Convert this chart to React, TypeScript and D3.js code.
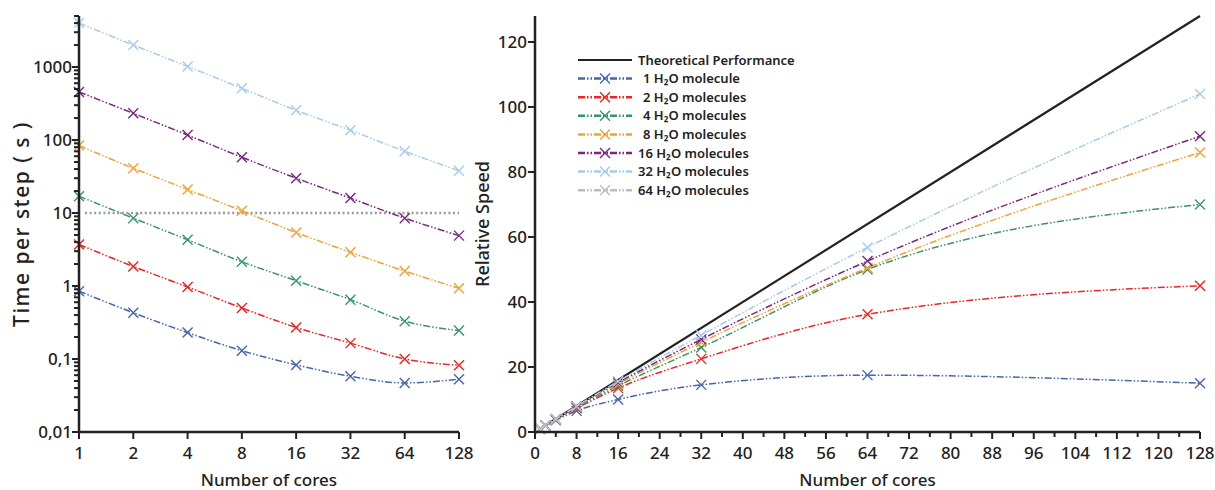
import React from 'react';
import * as d3 from 'd3';

// cores used in both panels
const cores = [1, 2, 4, 8, 16, 32, 64, 128];

const seriesNames = ['1 H₂O molecule', '2 H₂O molecules', '4 H₂O molecules', '8 H₂O molecules', '16 H₂O molecules', '32 H₂O molecules', '64 H₂O molecules'];
const seriesColors = ['#4565b0', '#ee2424', '#3a946a', '#f7a030', '#7b257e', '#a6cbec', '#bdbdbd'];

// time per step (s), left panel
const time1 = [0.85, 0.43, 0.23, 0.13, 0.083, 0.058, 0.047, 0.053];
const time2 = [3.7, 1.85, 0.97, 0.5, 0.27, 0.165, 0.1, 0.082];
const time4 = [17, 8.5, 4.3, 2.15, 1.18, 0.65, 0.33, 0.245];
const time8 = [84, 41, 21, 10.7, 5.4, 2.9, 1.6, 0.93];
const time16 = [455, 232, 117, 58, 30, 16, 8.5, 4.9];
const time32 = [4000, 2000, 1020, 510, 255, 136, 70, 38];

// relative speed, right panel
const speed1 = [1, 1.9, 3.6, 6.5, 10, 14.5, 17.5, 15];
const speed2 = [1, 2, 3.9, 7.3, 13.5, 22.5, 36.2, 45];
const speed4 = [1, 2, 3.9, 7.6, 14.2, 26, 50, 70];
const speed8 = [1, 2, 3.95, 7.8, 14.8, 27.6, 50.5, 86];
const speed16 = [1, 2, 3.95, 7.9, 15.2, 28.5, 52.6, 91];
const speed32 = [1, 2, 4, 7.9, 15.6, 29.8, 56.8, 104];
const cores64 = [1, 2, 4];
const speed64 = [1, 2, 3.9];

const leftYTicks = [0.01, 0.1, 1, 10, 100, 1000];
const leftYLabels = ['0,01', '0,1', '1', '10', '100', '1000'];
const rightYTicks = [0, 20, 40, 60, 80, 100, 120];
const rightXTicks = d3.range(0, 129, 8);
const rightXMinor = d3.range(4, 128, 8);

const font = '"Noto Sans", "DejaVu Sans", sans-serif';
const ink = '#222';
const dashStyle = '7,2,1.5,2,1.5,2';

function Cross({ x, y, color, s = 5 }) {
  return (
    <path d={`M${x - s},${y - s}L${x + s},${y + s}M${x - s},${y + s}L${x + s},${y - s}`}
      stroke={color} strokeWidth={1.4} fill="none" />
  );
}

export default function App() {
  const width = 1215;
  const height = 490;
  const bottom = 432;
  const top = 16;

  // left panel scales
  const xL = d3.scaleLog().base(2).domain([1, 128]).range([79, 459]);
  const yL = d3.scaleLog().domain([0.01, 5000]).range([bottom, top]);
  // right panel scales
  const xR = d3.scaleLinear().domain([0, 128]).range([535, 1200]);
  const yR = d3.scaleLinear().domain([0, 128]).range([bottom, top]);

  const timeData = [time1, time2, time4, time8, time16, time32];
  const speedData = [speed1, speed2, speed4, speed8, speed16, speed32];

  const lineL = d3.line<number>().x((d, i) => xL(cores[i])).y(d => yL(d)).curve(d3.curveMonotoneX);
  const lineR = d3.line<[number, number]>().x(d => xR(d[0])).y(d => yR(d[1])).curve(d3.curveMonotoneX);

  const minorL = [];
  [0.01, 0.1, 1, 10, 100, 1000].forEach(dec => {
    for (let k = 2; k <= 9; k++) if (k * dec <= 5000) minorL.push(k * dec);
  });

  const legendX = 578;
  const legendY = 60;
  const legendStep = 18.6;

  return (
    <div style={{ position: 'absolute', left: 0, top: 0 }}>
      <svg width={width} height={height} style={{ display: 'block', background: '#fff' }} fontFamily={font}>
        {/* ---- left panel ---- */}
        <line x1={xL(1) + 6} x2={xL(128)} y1={yL(10)} y2={yL(10)} stroke="#999" strokeWidth={2.5} strokeDasharray="2,2.6" />
        {timeData.map((vals, si) => (
          <g key={'t' + si}>
            <path d={lineL(vals)} fill="none" stroke={seriesColors[si]} strokeWidth={1.5} strokeDasharray={dashStyle} />
            {vals.map((v, i) => <Cross key={i} x={xL(cores[i])} y={yL(v)} color={seriesColors[si]} />)}
          </g>
        ))}
        <line x1={xL(1)} x2={xL(1)} y1={top} y2={bottom} stroke={ink} strokeWidth={2.5} />
        <line x1={xL(1)} x2={xL(128)} y1={bottom} y2={bottom} stroke={ink} strokeWidth={2.5} />
        {minorL.map(v => <line key={v} x1={xL(1) - 5} x2={xL(1)} y1={yL(v)} y2={yL(v)} stroke={ink} strokeWidth={2} />)}
        {leftYTicks.map((v, i) => (
          <g key={v}>
            <line x1={xL(1) - 7} x2={xL(1)} y1={yL(v)} y2={yL(v)} stroke={ink} strokeWidth={2} />
            <text x={72} y={yL(v)} dy="0.36em" textAnchor="end" fontSize={17} fontWeight={500} fill={ink}>{leftYLabels[i]}</text>
          </g>
        ))}
        {cores.map(c => (
          <g key={c}>
            <line x1={xL(c)} x2={xL(c)} y1={bottom} y2={bottom + 7} stroke={ink} strokeWidth={2} />
            <text x={xL(c)} y={bottom + 27} textAnchor="middle" fontSize={17} fontWeight={500} fill={ink}>{c}</text>
          </g>
        ))}
        <text x={xL(11.3)} y={486} textAnchor="middle" fontSize={17} fontWeight={500} fill={ink}>Number of cores</text>
        <text transform={`translate(29,${(top + bottom) / 2}) rotate(-90)`} textAnchor="middle" fontSize={21} fontWeight={500} letterSpacing={1.5} fill={ink}>Time per step ( s )</text>

        {/* ---- right panel ---- */}
        <line x1={xR(1)} y1={yR(1)} x2={xR(128)} y2={yR(128)} stroke={ink} strokeWidth={2.2} />
        {speedData.map((vals, si) => (
          <g key={'s' + si}>
            <path d={lineR(vals.map((v, i) => [cores[i], v]))} fill="none" stroke={seriesColors[si]} strokeWidth={1.5} strokeDasharray={dashStyle} />
            {vals.map((v, i) => <Cross key={i} x={xR(cores[i])} y={yR(v)} color={seriesColors[si]} />)}
          </g>
        ))}
        <path d={lineR(speed64.map((v, i) => [cores64[i], v]))} fill="none" stroke={seriesColors[6]} strokeWidth={1.5} strokeDasharray={dashStyle} />
        {speed64.map((v, i) => <Cross key={i} x={xR(cores64[i])} y={yR(v)} color={seriesColors[6]} />)}

        <line x1={xR(0)} x2={xR(0)} y1={top} y2={bottom} stroke={ink} strokeWidth={2.5} />
        <line x1={xR(0)} x2={xR(128)} y1={bottom} y2={bottom} stroke={ink} strokeWidth={2.5} />
        {rightYTicks.map(v => (
          <g key={v}>
            <line x1={xR(0) - 7} x2={xR(0)} y1={yR(v)} y2={yR(v)} stroke={ink} strokeWidth={2} />
            <text x={527} y={yR(v)} dy="0.36em" textAnchor="end" fontSize={17} fontWeight={500} fill={ink}>{v}</text>
          </g>
        ))}
        {rightXTicks.map(v => (
          <g key={v}>
            <line x1={xR(v)} x2={xR(v)} y1={bottom} y2={bottom + 7} stroke={ink} strokeWidth={2} />
            <text x={xR(v)} y={bottom + 27} textAnchor="middle" fontSize={17} fontWeight={500} fill={ink}>{v}</text>
          </g>
        ))}
        {rightXMinor.map(v => (
          <line key={v} x1={xR(v)} x2={xR(v)} y1={bottom} y2={bottom + 5} stroke={ink} strokeWidth={2} />
        ))}
        <text x={(xR(0) + xR(128)) / 2} y={486} textAnchor="middle" fontSize={17} fontWeight={500} fill={ink}>Number of cores</text>
        <text transform={`translate(489,${(top + bottom) / 2}) rotate(-90)`} textAnchor="middle" fontSize={18} fontWeight={500} fill={ink}>Relative Speed</text>

        {/* legend */}
        <g>
          <line x1={legendX} x2={legendX + 54} y1={legendY} y2={legendY} stroke={ink} strokeWidth={2} />
          <text x={638} y={legendY} dy="0.35em" fontSize={13} fontWeight={600} fill={ink}>Theoretical Performance</text>
          {seriesNames.map((name, i) => {
            const y = legendY + (i + 1) * legendStep;
            return (
              <g key={name}>
                <line x1={legendX} x2={legendX + 54} y1={y} y2={y} stroke={seriesColors[i]} strokeWidth={2.5} strokeDasharray={dashStyle} />
                <Cross x={legendX + 27} y={y} color={seriesColors[i]} s={5} />
                <text x={i < 4 ? 643 : 638} y={y} dy="0.35em" fontSize={13} fontWeight={600} fill={ink}>{name}</text>
              </g>
            );
          })}
        </g>
      </svg>
    </div>
  );
}
